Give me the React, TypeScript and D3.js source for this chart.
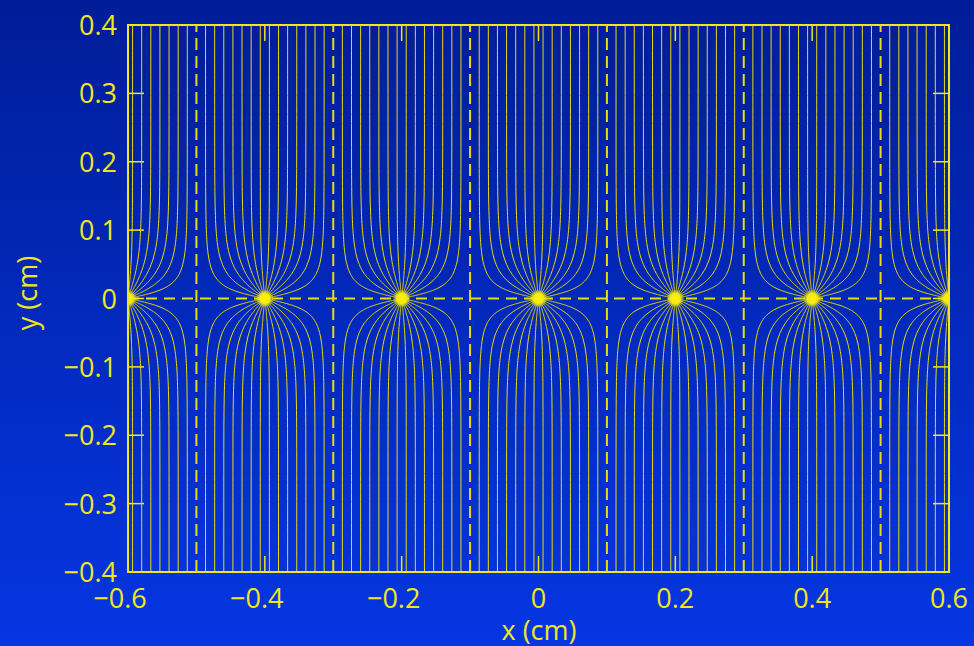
import React from "react";
import * as d3 from "d3";

// Wire (line-charge) positions along y = 0, in cm
const wireX = [-0.6, -0.4, -0.2, 0, 0.2, 0.4, 0.6];
const spacing = 0.2; // wire spacing a (cm)
const linesPerHalf = 15; // angular divisions per half-plane around each wire
const separatrixX = [-0.5, -0.3, -0.1, 0.1, 0.3, 0.5];
const xTicks = [-0.6, -0.4, -0.2, 0, 0.2, 0.4, 0.6];
const yTicks = [-0.4, -0.3, -0.2, -0.1, 0, 0.1, 0.2, 0.3, 0.4];

const W = 974;
const H = 646;
const L = 128, R = 949, T = 25, B = 572;

const YELLOW = "#f2e61e";
const LINE = "#e8dc10";
const FONT = "'Open Sans', 'DejaVu Sans', sans-serif";

const fmt = (v: number) => {
  const s = Math.abs(v) < 1e-9 ? "0" : d3.format(".1f")(Math.abs(v)).replace(/^0\.0$/, "0");
  return s;
};

export default function App() {
  const x = d3.scaleLinear().domain([-0.6, 0.6]).range([L, R]);
  const y = d3.scaleLinear().domain([-0.4, 0.4]).range([B, T]);

  // y samples: geometric near the wire plane
  const ys: number[] = [0];
  const nS = 260;
  for (let i = 0; i <= nS; i++) {
    ys.push(1e-6 * Math.pow(0.4 / 1e-6, i / nS));
  }

  const line = d3
    .line<[number, number]>()
    .x((d) => x(d[0]))
    .y((d) => y(d[1]));

  const paths: string[] = [];
  wireX.forEach((x0) => {
    for (let k = 1; k < linesPerHalf; k++) {
      const theta = (k * Math.PI) / linesPerHalf;
      const cot = Math.cos(theta) / Math.sin(theta);
      const pts: [number, number][] = ys.map((yy) => {
        const v = (Math.PI * yy) / spacing;
        const u = Math.atan(cot * Math.tanh(v));
        return [x0 + (spacing / Math.PI) * u, yy];
      });
      paths.push(line(pts) as string);
      paths.push(line(pts.map((p) => [p[0], -p[1]] as [number, number])) as string);
    }
  });

  const tickLen = 16;

  return (
    <svg
      width={W}
      height={H}
      style={{ position: "absolute", left: 0, top: 0 }}
      xmlns="http://www.w3.org/2000/svg"
    >
      <defs>
        <linearGradient id="bg" x1="0" y1="0" x2="0" y2="1">
          <stop offset="0" stopColor="#001d98" />
          <stop offset="1" stopColor="#0536e2" />
        </linearGradient>
        <clipPath id="plot">
          <rect x={L} y={T} width={R - L} height={B - T} />
        </clipPath>
        <radialGradient id="glow">
          <stop offset="0" stopColor="#fff200" stopOpacity={1} />
          <stop offset="0.55" stopColor="#f5ea10" stopOpacity={1} />
          <stop offset="1" stopColor="#f5ea10" stopOpacity={0} />
        </radialGradient>
      </defs>
      <rect x={0} y={0} width={W} height={H} fill="url(#bg)" />

      <g clipPath="url(#plot)">
        {paths.map((d, i) => (
          <path key={i} d={d} fill="none" stroke={LINE} strokeWidth={1} />
        ))}
        {separatrixX.map((v) => (
          <line
            key={"s" + v}
            x1={x(v)}
            x2={x(v)}
            y1={B}
            y2={T}
            stroke={LINE}
            strokeWidth={2}
            strokeDasharray="12,6"
          />
        ))}
        <line
          x1={L}
          x2={R}
          y1={y(0)}
          y2={y(0)}
          stroke={LINE}
          strokeWidth={2}
          strokeDasharray="11,7"
        />
        {wireX.map((v) => (
          <circle key={"w" + v} cx={x(v)} cy={y(0)} r={9} fill="url(#glow)" />
        ))}
      </g>

      {/* ticks */}
      {yTicks.map((v) => (
        <g key={"yt" + v}>
          <line x1={L} x2={L + tickLen} y1={y(v)} y2={y(v)} stroke={YELLOW} strokeWidth={1.5} />
          <line x1={R} x2={R - tickLen} y1={y(v)} y2={y(v)} stroke={YELLOW} strokeWidth={1.5} />
        </g>
      ))}
      {xTicks.map((v) => (
        <g key={"xt" + v}>
          <line x1={x(v)} x2={x(v)} y1={B} y2={B - tickLen} stroke={YELLOW} strokeWidth={1.5} />
          <line x1={x(v)} x2={x(v)} y1={T} y2={T + tickLen} stroke={YELLOW} strokeWidth={1.5} />
        </g>
      ))}

      <rect x={L} y={T} width={R - L} height={B - T} fill="none" stroke={YELLOW} strokeWidth={2} />

      {/* tick labels */}
      {yTicks.map((v) => (
        <text
          key={"yl" + v}
          x={117}
          y={y(v) + 10}
          textAnchor="end"
          fill={YELLOW}
          fontFamily={FONT}
          fontSize={27}
        >
          {(v < -1e-9 ? "\u2212" : "") + fmt(v)}
        </text>
      ))}
      {xTicks.map((v) => (
        <text
          key={"xl" + v}
          x={x(v)}
          dx={v < -1e-9 ? -8 : 0}
          y={608}
          textAnchor="middle"
          fill={YELLOW}
          fontFamily={FONT}
          fontSize={27}
        >
          {(v < -1e-9 ? "\u2212" : "") + fmt(v)}
        </text>
      ))}

      <text x={539} y={640} textAnchor="middle" fill={YELLOW} fontFamily={FONT} fontSize={27}>
        x (cm)
      </text>
      <text
        transform={`translate(37, ${293}) rotate(-90)`}
        textAnchor="middle"
        fill={YELLOW}
        fontFamily={FONT}
        fontSize={27}
      >
        y (cm)
      </text>
    </svg>
  );
}
